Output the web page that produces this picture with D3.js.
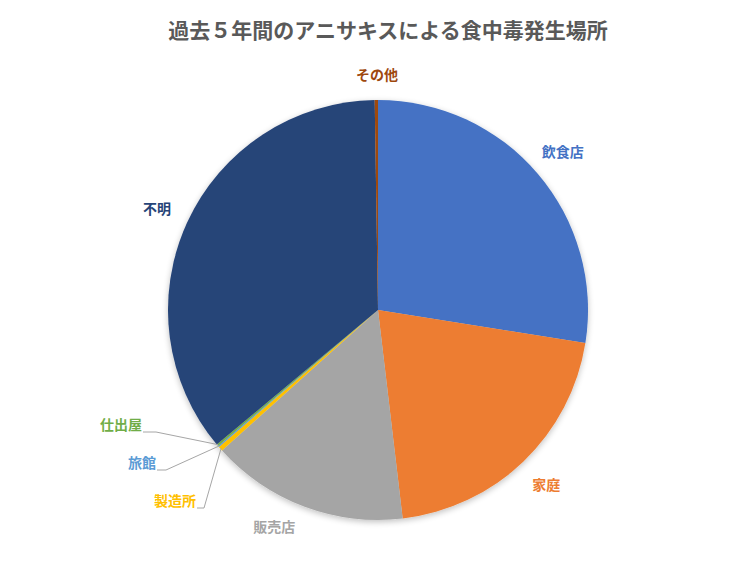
<!DOCTYPE html>
<html><head><meta charset="utf-8">
<script src="https://cdn.jsdelivr.net/npm/d3@7/dist/d3.min.js"></script>
<style>
html,body{margin:0;padding:0;background:#fff;}
svg text{font-family:"Noto Sans CJK JP","Noto Sans",sans-serif;}
</style></head>
<body><svg id="c" width="756" height="567"></svg>
<script>
const title = "過去５年間のアニサキスによる食中毒発生場所";
const categories = ["飲食店","家庭","販売店","製造所","旅館","仕出屋","不明","その他"];
const values = [27.5, 20.6, 15.2, 0.35, 0.1, 0.15, 35.8, 0.25];
const colors = ["#4472C4","#ED7D31","#A5A5A5","#FFC000","#5B9BD5","#70AD47","#264478","#9E480E"];

const svg = d3.select("#c");
const cx = 378, cy = 310, R = 210;

const defs = svg.append("defs");
const f = defs.append("filter").attr("id","sh").attr("x","-10%").attr("y","-10%").attr("width","120%").attr("height","120%");
f.append("feGaussianBlur").attr("in","SourceAlpha").attr("stdDeviation",3);
f.append("feOffset").attr("dx",0).attr("dy",2).attr("result","b");
f.append("feComponentTransfer").append("feFuncA").attr("type","linear").attr("slope",0.25);
const m = f.append("feMerge"); m.append("feMergeNode"); m.append("feMergeNode").attr("in","SourceGraphic");

svg.append("text").attr("x",388).attr("y",38).attr("text-anchor","middle")
  .attr("font-size",21).attr("font-weight","bold").attr("fill","#595959").text(title);

const data = categories.map((c,i)=>({name:c,value:values[i],color:colors[i]}));
const pie = d3.pie().value(d=>d.value).sort(null);
const arcs = pie(data);
const arc = d3.arc().innerRadius(0).outerRadius(R);
const g = svg.append("g").attr("transform",`translate(${cx},${cy})`);
g.append("g").attr("filter","url(#sh)").selectAll("path").data(arcs).enter().append("path")
  .attr("d",arc).attr("fill",d=>d.data.color);

const labelArc = d3.arc().innerRadius(243).outerRadius(243);
const big = arcs.filter(d=>d.data.value>=0.2 && !["製造所"].includes(d.data.name));
big.forEach(d=>{
  let [x,y] = labelArc.centroid(d);
  if (d.data.name==="販売店") { const a=205.5*Math.PI/180; x=241*Math.sin(a); y=-241*Math.cos(a); }
  if (d.data.name==="その他") { x=-1; y=-235; }
  g.append("text").attr("x",x).attr("y",y).attr("dy","0.35em").attr("text-anchor","middle")
    .attr("font-size",14).attr("font-weight",600).attr("fill",d.data.color).text(d.data.name);
});

// small slices with leader lines
const small = {"仕出屋":{lx:-236,ly:115,ex:-226,anchor:"end"},
               "旅館":{lx:-222,ly:153,ex:-216,anchor:"end"},
               "製造所":{lx:-182,ly:191,ex:-178,anchor:"end"}};
arcs.forEach(d=>{
  const s = small[d.data.name]; if(!s) return;
  const a = (d.startAngle+d.endAngle)/2;
  const px = (R-1)*Math.sin(a), py = -(R-1)*Math.cos(a);
  g.append("path").attr("d",`M${s.lx+1},${s.ly+7}L${s.ex+4},${s.ly+7}L${px},${py}`)
    .attr("fill","none").attr("stroke","#A6A6A6").attr("stroke-width",1);
  g.append("text").attr("x",s.lx).attr("y",s.ly).attr("dy","0.35em").attr("text-anchor",s.anchor)
    .attr("font-size",14).attr("font-weight",600).attr("fill",d.data.color).text(d.data.name);
});
</script></body></html>
